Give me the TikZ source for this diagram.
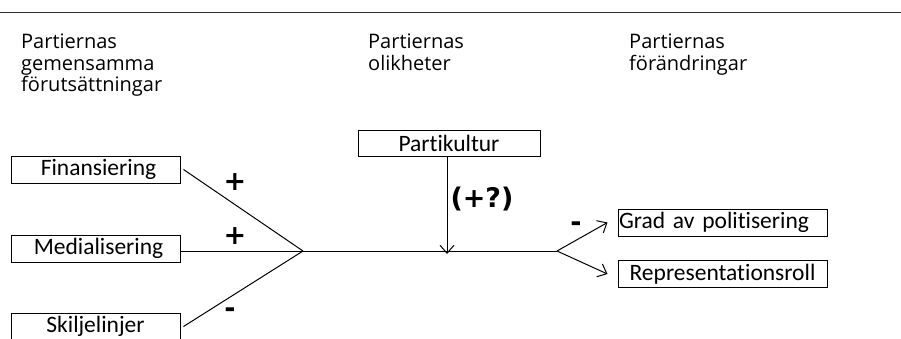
\documentclass[tikz,border=0pt]{standalone}
\usepackage{fontspec}
\setmainfont{Open Sans}
\newfontfamily\boxfont[Ligatures=NoCommon]{Carlito}
\newfontfamily\signfont{DejaVu Sans}
\usetikzlibrary{arrows.meta}

\begin{document}
\begin{tikzpicture}[x=1pt,y=-1pt,
		>={Straight Barb[length=8pt,width=14pt]},
		faktor/.style={draw,rectangle,line width=1pt,inner sep=1pt,font=\boxfont\fontsize{23.5}{25}\selectfont},
		rubrik/.style={anchor=north west,align=left,inner sep=0pt,font=\fontsize{20}{21.5}\selectfont},
		tecken/.style={inner sep=0pt,font=\signfont\bfseries\fontsize{27}{29}\selectfont}
		]
	\useasboundingbox (0,0) rectangle (901,338);
	\draw[line width=1pt,black!80] (0,12) -- (901,12);

	% Rubriker
	% ----------------------
	\node[rubrik] (rubGem) at (21,34) {Partiernas\\gemensamma\\förutsättningar};
	\node[rubrik] (rubOlik) at (368,34) {Partiernas\\olikheter};
	\node[rubrik] (rubFor) at (629,34) {Partiernas\\förändringar};

	% Förutsättningar
	% ----------------------
		\node[faktor, minimum height=27pt,minimum width=169pt] (Fin) at (95.5,169.5) {\hspace{6pt}Finansiering};
		\node[faktor, minimum height=27pt,minimum width=169pt] (Med) at (95.5,248.5) {\hspace{6pt}Medialisering};
		\node[faktor, minimum height=27pt,minimum width=169pt] (Skil) at (95.5,326.5) {Skiljelinjer};

		% Olikheter
		\node[faktor, minimum height=26pt,minimum width=182pt] (Kultur) at (449,143) {Partikultur};

		% Förändringar
		\node[faktor, minimum height=27pt,text width=207pt,align=left] (Grad) at (722.5,222.5) {Grad av politisering};
		\node[faktor, minimum height=27pt,minimum width=209pt] (Repr) at (722.5,274) {Representationsroll};

	% Kopplingar
	% ----------------------
	\coordinate (nav) at (303,251);
	\coordinate (gren) at (557,251);

	\draw[line width=1pt] ([xshift=3pt]Fin.east) -- (nav);
	\node[tecken] (plusFin) at (235,182) {+};
	\draw[line width=1pt] (Med.east |- nav) -- (nav);
	\node[tecken] (plusMed) at (235,236) {+};
	\draw[line width=1pt] ([xshift=3pt]Skil.east) -- (nav);
	\node[tecken] (minusSkil) at (230,313) {-};

	\draw[line width=1pt] (nav) -- (gren);
	\draw[->,line width=1pt] ([xshift=-2pt]Kultur.south) -- ([xshift=-2pt,yshift=-3pt]Kultur.south |- nav);
	\node[tecken] (plusKultur) at (482,199) {(+?)};

	\draw[->,line width=1pt] (gren) -- ([xshift=-10pt]Grad.west);
	\draw[->,line width=1pt] (gren) -- ([xshift=-10pt]Repr.west);
	\node[tecken] (minusGrad) at (576,227) {-};

\end{tikzpicture}
\end{document}
